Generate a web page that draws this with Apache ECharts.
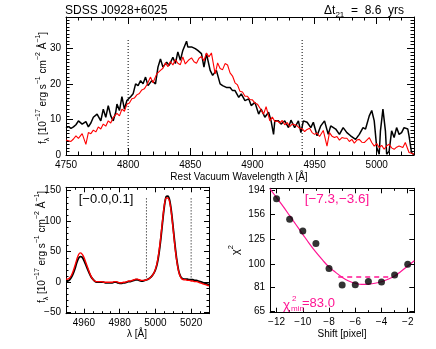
<!DOCTYPE html>
<html><head><meta charset="utf-8">
<script src="https://cdn.jsdelivr.net/npm/echarts@6/dist/echarts.min.js"></script>
<style>html,body{margin:0;padding:0;background:#fff}#c{width:436px;height:349px}</style>
</head><body><div id="c"></div>
<script>
// ---------------- DATA ----------------
// Top panel: H-beta region, two epochs
const blackWave = [4750,4752,4754,4756,4758,4760,4763,4766,4768,4770,4772,4775,4778,4780,4782,4784,4786,4788,4790,4791,4793,4795,4797,4799,4802,4804,4806,4808,4810,4812,4814,4816,4819,4822,4824,4826,4828,4831,4833,4836,4838,4840,4842,4844,4847,4848,4851,4854,4856,4859,4861,4863,4866,4868,4871,4874,4876,4879,4882,4884,4886,4889,4891,4894,4897,4899,4902,4905,4907,4910,4913,4915,4917,4918,4921,4923,4926,4929,4931,4934,4937,4939,4941,4944,4947,4949,4952,4955,4958,4961,4963,4967,4970,4973,4976,4979,4983,4986,4989,4991,4994,4996,4998,5000,5002,5003,5005,5007,5008,5010,5012,5014,5016,5018,5020,5022,5025,5026,5028,5030];
const blackFlux = [7.6,8.0,7.5,7.9,8.5,9.6,8.7,9.4,7.9,9.0,10.6,11.5,9.6,12.9,10.6,13.9,11.0,9.6,12.0,14.3,12.5,16.4,12.9,15.3,16.4,17.2,20.0,19.5,20.9,20.0,21.9,19.5,20.9,20.0,24.7,27.0,24.7,26.1,25.2,27.5,25.7,29.0,26.6,29.4,32.0,30.4,30.4,29.9,29.4,28.5,24.7,28.5,23.8,22.4,23.8,20.0,19.5,19.0,19.0,18.1,18.1,16.2,17.2,15.3,15.8,13.9,14.8,11.5,12.9,10.6,12.0,9.6,5.8,9.6,9.6,8.7,9.6,7.7,9.8,7.7,9.6,6.3,9.6,9.2,7.7,9.2,5.4,8.2,9.6,5.8,8.2,7.3,5.8,7.7,6.3,5.4,4.4,5.8,7.7,7.3,11.0,12.5,9.6,2.1,0.2,6.8,12.9,6.8,0.2,1.1,6.8,4.9,7.7,5.8,6.3,7.7,7.3,5.4,0.7,0.0];
const redWave = [4750,4752,4754,4756,4758,4760,4763,4766,4768,4770,4772,4774,4776,4778,4780,4782,4784,4786,4788,4791,4793,4795,4797,4799,4801,4803,4805,4807,4809,4811,4813,4815,4818,4820,4823,4826,4828,4830,4832,4834,4836,4838,4840,4842,4844,4846,4847,4849,4851,4853,4855,4857,4859,4861,4863,4865,4867,4870,4872,4874,4876,4878,4880,4882,4884,4886,4888,4890,4892,4894,4896,4898,4900,4902,4904,4906,4909,4911,4914,4916,4918,4920,4922,4924,4926,4928,4930,4932,4934,4936,4938,4940,4942,4944,4946,4948,4950,4952,4954,4957,4959,4960,4962,4964,4966,4968,4970,4972,4974,4976,4978,4980,4982,4984,4986,4988,4990,4992,4994,4996,4998,5000,5002,5004,5006,5008,5010,5012,5014,5016,5018,5021,5023,5026,5028,5030];
const redFlux = [4.2,4.0,3.8,4.5,5.4,4.7,6.0,3.0,6.3,6.0,7.0,6.5,7.9,7.3,8.7,8.1,9.6,9.0,10.6,11.7,11.0,12.9,12.3,14.3,14.6,15.8,16.0,16.9,17.3,18.3,18.6,19.7,21.9,20.3,22.8,23.8,24.4,25.9,24.8,26.3,25.3,26.8,25.8,25.4,27.6,25.6,26.1,26.8,27.3,26.2,25.8,27.2,27.7,26.5,28.7,27.6,28.7,22.8,25.9,24.3,24.0,25.7,25.3,23.1,22.2,20.3,19.7,17.9,17.7,16.5,16.5,15.6,15.5,14.6,14.3,13.2,11.5,13.6,9.6,10.7,9.4,9.6,9.0,9.7,8.5,9.1,8.0,8.7,8.5,8.2,7.5,7.4,6.6,7.2,7.5,6.3,5.8,6.2,5.2,6.9,4.0,2.5,6.3,5.3,4.9,5.2,4.2,4.9,4.7,4.7,3.8,4.4,3.3,4.2,4.4,3.6,3.5,4.2,4.9,3.5,2.5,3.2,2.1,2.7,1.6,2.6,3.0,2.0,1.6,2.2,2.5,2.1,3.5,0.7,0.5,0.2];
const topWindow = [4800, 4940];        // dotted lines (Angstrom)
const topWindowSpan = [0, 32.4];       // their vertical extent (flux)
const topXTicks = [4750,4800,4850,4900,4950,5000];
const topYTicks = [0,10,20,30];

// Bottom-left panel: [OIII] region
const oiiiWave = [4950,4951,4952,4953,4954,4955,4956,4957,4958,4959,4960,4961,4962,4963,4964,4965,4966,4967,4968,4969,4970,4971,4972,4973,4974,4975,4976,4977,4978,4979,4980,4981,4982,4983,4984,4985,4986,4987,4988,4989,4990,4991,4992,4993,4994,4995,4996,4997,4998,4999,5000,5001,5002,5003,5004,5005,5006,5007,5008,5009,5010,5011,5012,5013,5014,5015,5016,5017,5018,5019,5020,5021,5022,5023,5024,5025,5026,5027,5028,5029,5030];
const oiiiBlack = [2,2,4,8,14,22,32,39,42,41,36,29,22,15,9,5,2,0,0,0,0,0,-1,-1,-1,-1,-1,0,0,-1,-2,-2,-1,-1,0,1,1,2,3,4,4,3,2,2,3,4,5,7,10,14,20,30,47,70,98,124,140,141,134,115,88,60,36,19,10,6,5,5,5,4,4,4,3,3,2,1,0,-1,-2,-3,-4];
const oiiiRed = [5,5,7,11,18,27,37,45,48,46,41,33,25,17,10,5,2,1,1,1,1,0,0,0,0,0,0,1,1,0,-1,-1,0,0,1,2,2,3,4,5,5,4,3,3,3,4,5,7,10,14,21,32,50,74,101,126,138,138,131,112,85,57,34,18,9,5,4,4,3,3,2,2,1,1,0,-1,-2,-3,-4,-5,-6];
const oiiiWindow = [4995, 5020];
const oiiiWindowSpan = [3, 140];
const oiiiXTicks = [4960,4980,5000,5020];
const oiiiYTicks = [-50,0,50,100,150];

// Bottom-right panel: chi-square vs shift
const shiftPts = [-12,-11,-10,-9,-8,-7,-6,-5,-4,-3,-2];
const chi2Pts = [180,149.7,134.6,120,95.8,82.5,82.6,85.2,84.8,90.4,99.5];
const fitShift = [-12.5,-12,-11.5,-11,-10.5,-10,-9.5,-9,-8.5,-8,-7.5,-7,-6.5,-6,-5.5,-5,-4.5,-4,-3.5,-3,-2.5,-2,-1.5];
const fitChi2 = [197,182,168,154.5,142,130.5,120,111,103.5,97,92.5,88.5,85.5,83.8,83.0,83.2,83.8,85,87,89.5,93.5,98,102.8];
const rangeShift = [-7.3,-3.3];
const rangeChi2 = 88.7;
const chiXTicks = [-12,-10,-8,-6,-4,-2];
const chiYTicks = [65,81,100,125,156,194];

// ---------------- CHART ----------------
const FONT = 'Liberation Sans, Arial, sans-serif';
const MAG = '#ff1493';
const chart = echarts.init(document.getElementById('c'), null, {renderer: 'canvas'});
const pairs = (xs, ys) => xs.map((x, i) => [x, ys[i]]);
const minus = v => String(v).replace('-', '\u2212');
function range(a, b, s, skip) { const r = []; for (let v = a; v <= b + 1e-9; v += s) { if (!skip.some(t => Math.abs(t - v) < 1e-9)) r.push(Math.round(v * 1000) / 1000); } return r; }

const xAxes = [], yAxes = [];
function addAxes(list, gi, cfg, isX) {
  const pos = isX ? ['bottom', 'top'] : ['left', 'right'];
  const base = {gridIndex: gi, type: cfg.type || 'value', min: cfg.min, max: cfg.max,
    splitLine: {show: false}, axisPointer: {show: false}, silent: true, minorTick: {show: false}, minorSplitLine: {show: false}};
  if (cfg.type === 'log') base.logBase = 10;
  const idx = list.length;
  pos.forEach((p, k) => {
    list.push(Object.assign({}, base, {
      position: p,
      axisLine: {show: true, onZero: false, lineStyle: {color: '#000', width: 1}},
      axisTick: {show: true, inside: true, length: cfg.major, customValues: cfg.ticks, lineStyle: {color: '#000', width: 1}},
      axisLabel: k === 0 ? {show: true, customValues: cfg.ticks, formatter: cfg.fmt || (v => minus(v)), margin: cfg.margin,
        color: '#000', fontSize: 10, fontFamily: FONT, showMinLabel: true, showMaxLabel: true, hideOverlap: false} : {show: false}
    }));
    if (cfg.minors) list.push(Object.assign({}, base, {
      position: p,
      axisLine: {show: false, onZero: false},
      axisTick: {show: true, inside: true, length: cfg.minor, customValues: cfg.minors, lineStyle: {color: '#000', width: 1}},
      axisLabel: {show: false}
    }));
  });
  return idx;
}

const grids = [
  {left: 66, top: 17, width: 348, height: 138, outerBoundsMode: 'none', containLabel: false},
  {left: 66, top: 187.3, width: 143, height: 126.4, outerBoundsMode: 'none', containLabel: false},
  {left: 270, top: 188.3, width: 144.3, height: 124.4, outerBoundsMode: 'none', containLabel: false}
];

const tX = addAxes(xAxes, 0, {min: 4750, max: 5030, ticks: topXTicks, minors: range(4750, 5030, 10, topXTicks), major: 7, minor: 3.5, margin: 5}, true);
const tY = addAxes(yAxes, 0, {min: 0, max: 38.8, ticks: topYTicks, minors: range(0, 38, 1, topYTicks), major: 7, minor: 3.5, margin: 5}, false);
const oX = addAxes(xAxes, 1, {min: 4950, max: 5030, ticks: oiiiXTicks, minors: range(4950, 5030, 5, oiiiXTicks), major: 5, minor: 2.5, margin: 5}, true);
const oY = addAxes(yAxes, 1, {min: -51.6, max: 155.5, ticks: oiiiYTicks, minors: range(-50, 150, 10, oiiiYTicks), major: 5, minor: 2.5, margin: 5}, false);
const cX = addAxes(xAxes, 2, {min: -12.5, max: -1.5, ticks: chiXTicks, minors: range(-12, -2, 1, chiXTicks), major: 5, minor: 2.5, margin: 5}, true);
const cY = addAxes(yAxes, 2, {type: 'log', min: 64.2, max: 198, ticks: chiYTicks, major: 5, minor: 2.5, margin: 5, fmt: v => String(Math.round(v))}, false);

function vline(xi, yi, xs, span, color) {
  return xs.map(x => ({type: 'line', xAxisIndex: xi, yAxisIndex: yi, data: [[x, span[0]], [x, span[1]]],
    symbol: 'none', silent: true, lineStyle: {color: color, width: 1, type: [1, 2]}, z: 1}));
}

const series = [
  {type: 'line', xAxisIndex: tX, yAxisIndex: tY, data: pairs(blackWave, blackFlux), symbol: 'none', lineStyle: {color: '#000', width: 1.5}, z: 2},
  {type: 'line', xAxisIndex: tX, yAxisIndex: tY, data: pairs(redWave, redFlux), symbol: 'none', lineStyle: {color: '#ff0000', width: 1.1}, z: 3},
  ...vline(tX, tY, topWindow, topWindowSpan, '#000'),
  {type: 'line', xAxisIndex: oX, yAxisIndex: oY, data: pairs(oiiiWave, oiiiBlack), symbol: 'none', smooth: 0.3, lineStyle: {color: '#000', width: 1.8}, z: 2},
  {type: 'line', xAxisIndex: oX, yAxisIndex: oY, data: pairs(oiiiWave, oiiiRed), symbol: 'none', smooth: 0.3, lineStyle: {color: '#ff0000', width: 1.4}, z: 3},
  ...vline(oX, oY, oiiiWindow, oiiiWindowSpan, '#000'),
  {type: 'line', xAxisIndex: cX, yAxisIndex: cY, data: pairs(fitShift, fitChi2), symbol: 'none', smooth: 0.4, lineStyle: {color: MAG, width: 1.2}, z: 2},
  {type: 'line', xAxisIndex: cX, yAxisIndex: cY, data: rangeShift.map(x => [x, rangeChi2]), symbol: 'none', lineStyle: {color: MAG, width: 1.5, type: [5, 4]}, z: 2},
  {type: 'scatter', xAxisIndex: cX, yAxisIndex: cY, data: pairs(shiftPts, chi2Pts), symbol: 'circle', symbolSize: 7, itemStyle: {color: '#000'}, z: 4}
];

// ---------------- TEXT ----------------
function tok(size, extra) { return Object.assign({fontSize: size, fontFamily: FONT}, extra || {}); }
const fluxRich = {
  t: tok(10, {lineHeight: 16, verticalAlign: 'middle'}),
  s: tok(7, {lineHeight: 9, verticalAlign: 'bottom'}),
  p: tok(7, {lineHeight: 9, verticalAlign: 'top'})
};
const fluxLabel = '{t|f}{s|\u03bb}{t| [10}{p|\u221217}{t| erg s}{p|\u22121}{t| cm}{p|\u22122}{t| \u00c5}{p|\u22121}{t|]}';
function txt(x, y, text, rich, o) {
  o = o || {};
  return {type: 'text', x: x, y: y, rotation: o.rot || 0, z: 100, silent: true,
    style: {text: text, rich: rich, fill: o.color || '#000', align: o.align || 'center', verticalAlign: 'middle',
      fontSize: o.size || 10, fontFamily: FONT}};
}
function plain(x, y, text, size, o) {
  o = o || {};
  return {type: 'text', x: x, y: y, z: 100, silent: true,
    style: {text: text, fill: o.color || '#000', align: o.align || 'left', verticalAlign: 'middle', fontSize: size, fontFamily: FONT}};
}
const graphics = [
  plain(65, 10.5, 'SDSS J0928+6025', 12),
  txt(404, 11, '{a|\u0394t}{s|21}{a|  =  8.6  yrs}', {a: tok(12, {lineHeight: 16}), s: tok(8, {lineHeight: 10, verticalAlign: 'bottom'})}, {align: 'right'}),
  txt(43, 88, fluxLabel, fluxRich, {rot: Math.PI / 2}),
  plain(239, 177, 'Rest Vacuum Wavelength \u03bb [\u00c5]', 10, {align: 'center'}),
  txt(42, 247, fluxLabel, fluxRich, {rot: Math.PI / 2}),
  plain(137, 334, '\u03bb [\u00c5]', 10, {align: 'center'}),
  plain(342, 334, 'Shift [pixel]', 10, {align: 'center'}),
  txt(236, 250, '{t|\u03c7}{p|2}', {t: tok(11, {lineHeight: 18}), p: tok(7.5, {lineHeight: 10, verticalAlign: 'top'})}, {rot: Math.PI / 2}),
  plain(106, 199.5, '[\u22120.0,0.1]', 13, {align: 'center'}),
  plain(337, 199.5, '[\u22127.3,\u22123.6]', 13.5, {align: 'center', color: MAG}),
  plain(283, 305, '\u03c7', 13.5, {color: MAG}),
  plain(292, 299, '2', 8, {color: MAG}),
  plain(291, 309, 'min', 8, {color: MAG}),
  plain(302, 303.5, '=83.0', 13, {color: MAG})
];

chart.setOption({
  animation: false,
  backgroundColor: '#fff',
  grid: grids,
  xAxis: xAxes,
  yAxis: yAxes,
  series: series,
  graphic: graphics
});
</script>
</body></html>
